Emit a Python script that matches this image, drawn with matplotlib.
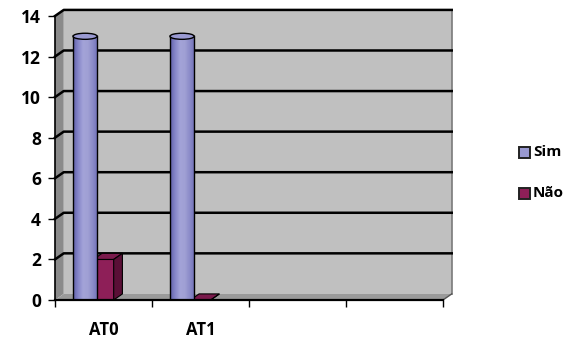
import numpy as np
import matplotlib
matplotlib.use("Agg")
import matplotlib.pyplot as plt
from matplotlib.patches import Polygon, Rectangle, Ellipse
from matplotlib.colors import LinearSegmentedColormap

plt.rcParams['font.family'] = ['Open Sans', 'DejaVu Sans']

# Data
categories = ["AT0", "AT1"]
series_names = ["Sim", "Não"]
sim_values = [13, 13]
nao_values = [2, 0]
y_ticks = [0, 2, 4, 6, 8, 10, 12, 14]

n_slots = 4          # category slots on the floor
ymax = 14
dx, dy = 0.09, 0.30  # 3-D depth offset (data units)

fig = plt.figure(figsize=(5.74, 3.40), dpi=100)
ax = fig.add_axes([55 / 574, (340 - 300) / 340, (443 - 55) / 574, (300 - 16) / 340])
ax.set_xlim(0, n_slots)
ax.set_ylim(0, ymax)

wall_c = "#c0c0c0"
side_c = "#8a8a8a"
floor_c = "#9a9a9a"

# Left wall, floor and back wall
ax.add_patch(Polygon([(0, 0), (dx, dy), (dx, ymax + dy), (0, ymax)],
                     closed=True, facecolor=side_c, edgecolor="none", zorder=0, clip_on=False))
ax.add_patch(Polygon([(0, 0), (n_slots, 0), (n_slots + dx, dy), (dx, dy)],
                     closed=True, facecolor=floor_c, edgecolor="none", zorder=0, clip_on=False))
ax.add_patch(Rectangle((dx, dy), n_slots, ymax, facecolor=wall_c,
                       edgecolor="none", zorder=0, clip_on=False))
ax.plot([n_slots + dx, n_slots + dx], [dy, ymax + dy], color="#7a7a7a", lw=1.2,
        zorder=1, clip_on=False)
ax.plot([n_slots, n_slots + dx], [0, dy], color="#555555", lw=1.0, zorder=1, clip_on=False)

# Gridlines on left wall and back wall
for v in y_ticks[1:]:
    ax.plot([0, dx, n_slots + dx], [v, v + dy, v + dy], color="black", lw=1.8,
            zorder=1, clip_on=False)

# Cylinder shading
cyl_cmap = LinearSegmentedColormap.from_list(
    "cyl", ["#5e5ea8", "#8585c8", "#a3a3d8", "#a0a0d4", "#8a8ac8", "#7070b8"])
grad = np.linspace(0, 1, 256).reshape(1, -1)

sim_off, sim_w = 0.31, 0.25
nao_off, nao_w = 0.395, 0.21
ell_h = 0.30

for i, (s, n) in enumerate(zip(sim_values, nao_values)):
    # Não: square column
    x0 = i + nao_off
    face = Rectangle((x0, 0), nao_w, n, facecolor="#8e1f58", edgecolor="black",
                     lw=0.8, zorder=2)
    ax.add_patch(face)
    ax.add_patch(Polygon([(x0, n), (x0 + nao_w, n), (x0 + nao_w + dx, n + dy), (x0 + dx, n + dy)],
                         closed=True, facecolor="#7a1a4c", edgecolor="black", lw=0.8, zorder=2))
    ax.add_patch(Polygon([(x0 + nao_w, 0), (x0 + nao_w + dx, dy), (x0 + nao_w + dx, n + dy),
                          (x0 + nao_w, n)],
                         closed=True, facecolor="#5a0f36", edgecolor="black", lw=0.8, zorder=2))

    # Sim: cylinder
    cx = i + sim_off
    xl, xr = cx - sim_w / 2, cx + sim_w / 2
    body = Rectangle((xl, 0), sim_w, s, facecolor="none", edgecolor="none", zorder=3)
    ax.add_patch(body)
    im = ax.imshow(grad, cmap=cyl_cmap, extent=(xl, xr, 0, s), aspect="auto",
                   zorder=3, interpolation="bilinear")
    im.set_clip_path(body)
    ax.plot([xl, xl], [0, s], color="black", lw=1.0, zorder=4)
    ax.plot([xr, xr], [0, s], color="black", lw=1.0, zorder=4)
    ax.add_patch(Ellipse((cx, s), sim_w, ell_h, facecolor="#9a9ad2",
                         edgecolor="black", lw=1.0, zorder=5))

ax.set_xlim(0, n_slots)
ax.set_ylim(0, ymax)

# Axes, ticks and labels
for side in ["top", "right"]:
    ax.spines[side].set_visible(False)
ax.spines["left"].set_linewidth(1.2)
ax.spines["bottom"].set_linewidth(1.6)
ax.spines["left"].set_zorder(6)
ax.spines["bottom"].set_zorder(6)

ax.set_yticks(y_ticks)
ax.set_yticklabels([str(v) for v in y_ticks], fontsize=12.5, fontweight="bold")
ax.set_xticks(range(n_slots + 1))
ax.set_xticklabels([])
ax.set_xticks([i + 0.5 for i in range(len(categories))], minor=True)
ax.set_xticklabels(categories, minor=True, fontsize=12, fontweight="bold")
ax.tick_params(axis="y", length=5, width=1, pad=5)
ax.tick_params(axis="x", which="major", length=5, width=1)
ax.tick_params(axis="x", which="minor", length=0, pad=15)

# Legend
leg_colors = ["#9a9ad2", "#8e1f58"]
for name, col, ypx in zip(series_names, leg_colors, [152, 193]):
    fig.patches.append(Rectangle((519 / 574, (340 - ypx - 5.5) / 340), 11 / 574, 11 / 340,
                                 transform=fig.transFigure, facecolor=col,
                                 edgecolor="#222222", lw=1.4))
    fig.text(533 / 574, (340 - ypx) / 340, name, fontsize=11, fontweight="bold",
             va="center", ha="left")

fig.savefig("out.png", dpi=100)
